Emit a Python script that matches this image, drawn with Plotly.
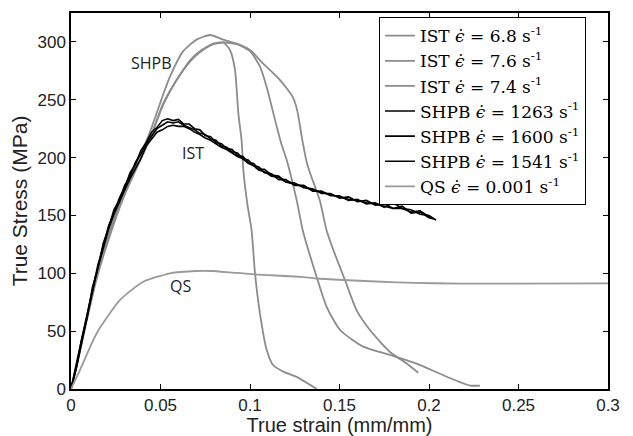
import plotly.graph_objects as go

# ---------------- data ----------------
ist68_strain = [0, 0.0013, 0.0069, 0.0143, 0.0218, 0.0292, 0.0367, 0.0441, 0.0516, 0.059, 0.0665,
                0.072, 0.0795, 0.0851, 0.0888, 0.0916, 0.0935, 0.0953, 0.0963, 0.0985, 0.1009,
                0.1028, 0.1056, 0.1093, 0.113, 0.1186, 0.126, 0.1373]
ist68_stress = [0, 8, 48, 97, 135, 166, 192, 217, 247, 267, 284,
                292, 298.5, 299.5, 293, 276, 238, 215, 189, 160, 137,
                100, 65, 34, 20.5, 15, 10.5, 0]

ist76_strain = [0, 0.0013, 0.0069, 0.0143, 0.0218, 0.0292, 0.0367, 0.0441, 0.0516, 0.059, 0.0665,
                0.072, 0.0795, 0.0851, 0.0926, 0.1, 0.1056, 0.1093, 0.1149, 0.1175, 0.1205, 0.1261,
                0.1295, 0.1326, 0.1376, 0.1428, 0.1503, 0.1633, 0.1782, 0.1931, 0.2099, 0.2229, 0.2285]
ist76_stress = [0, 7, 46, 95, 133, 165, 191, 216, 246, 267, 283,
                291, 298, 299.5, 298, 292, 278.6, 261, 227, 212, 198, 163,
                137, 120, 95, 71, 51, 36.6, 29.4, 22, 10.6, 3, 3]

ist74_strain = [0, 0.0013, 0.0069, 0.0143, 0.0218, 0.0292, 0.0367, 0.0441, 0.0516, 0.0553, 0.0627,
                0.0702, 0.0777, 0.085, 0.0926, 0.1, 0.1075, 0.115, 0.1205, 0.124, 0.1265, 0.1289,
                0.1317, 0.1335, 0.139, 0.1428, 0.1466, 0.1531, 0.1596, 0.167, 0.1782, 0.1875, 0.194]
ist74_stress = [0, 9, 50, 99, 137, 169, 195, 222, 255, 270, 292,
                302, 306, 302, 298.5, 293, 281, 270, 260, 252, 240, 218,
                196, 187, 163, 137, 120, 94, 68, 51, 32, 22, 14]

shpb1263_strain = [0, 0.003, 0.006, 0.009, 0.012, 0.015, 0.018, 0.021, 0.024, 0.027, 0.030, 0.033,
                   0.036, 0.039, 0.042, 0.045, 0.048, 0.051, 0.054, 0.057, 0.060, 0.063, 0.066,
                   0.069, 0.072, 0.075, 0.078, 0.081, 0.084, 0.087, 0.090, 0.093, 0.096, 0.099,
                   0.102, 0.105, 0.108, 0.112, 0.116, 0.120, 0.125, 0.130, 0.135, 0.140, 0.145,
                   0.150, 0.155, 0.160, 0.165, 0.170, 0.175, 0.180, 0.185, 0.190, 0.195, 0.200, 0.203]
shpb1263_stress = [0, 21, 41, 65, 85, 107, 123, 141, 152, 165, 174, 187,
                   194, 206, 213, 222, 226, 232, 233.5, 232, 233, 229, 229,
                   225, 224, 219, 218, 213, 212, 208, 207, 202, 201, 196,
                   195, 190, 190, 185, 184, 179, 178, 174, 173, 169, 169,
                   165, 166, 162, 163, 159, 160, 156, 158, 152, 153, 148, 147]

shpb1600_strain = [0, 0.003, 0.006, 0.009, 0.012, 0.015, 0.018, 0.021, 0.024, 0.027, 0.030, 0.033,
                   0.036, 0.039, 0.042, 0.045, 0.048, 0.051, 0.054, 0.057, 0.060, 0.063, 0.066,
                   0.069, 0.072, 0.075, 0.078, 0.081, 0.084, 0.087, 0.090, 0.093, 0.096, 0.099,
                   0.102, 0.105, 0.108, 0.112, 0.116, 0.120, 0.125, 0.130, 0.135, 0.140, 0.145,
                   0.150, 0.155, 0.160, 0.165, 0.170, 0.175, 0.180, 0.185, 0.190, 0.195, 0.200, 0.204]
shpb1600_stress = [0, 19, 43, 62, 88, 104, 126, 139, 155, 163, 176, 184,
                   196, 203, 212, 219, 225, 228, 231, 230, 231, 228, 226,
                   224, 221, 220, 216, 215, 210, 209, 205, 204, 199, 198,
                   193, 192, 187, 186, 181, 181, 176, 176, 171, 171, 167,
                   167, 163, 164, 160, 161, 157, 161, 156, 155, 151, 150, 146]

shpb1541_strain = [0, 0.003, 0.006, 0.009, 0.012, 0.015, 0.018, 0.021, 0.024, 0.027, 0.030, 0.033,
                   0.036, 0.039, 0.042, 0.045, 0.048, 0.051, 0.054, 0.057, 0.060, 0.063, 0.066,
                   0.069, 0.072, 0.075, 0.078, 0.081, 0.084, 0.087, 0.090, 0.093, 0.096, 0.099,
                   0.102, 0.105, 0.108, 0.112, 0.116, 0.120, 0.125, 0.130, 0.135, 0.140, 0.145,
                   0.150, 0.155, 0.160, 0.165, 0.170, 0.175, 0.180, 0.185, 0.190, 0.195, 0.200, 0.202]
shpb1541_stress = [0, 18, 40, 63, 84, 105, 122, 138, 151, 162, 172, 182,
                   190, 199, 210, 216, 222, 224, 227, 228, 227, 227, 225,
                   222, 220, 217, 215, 212, 209, 207, 204, 201, 199, 195,
                   193, 189, 188, 184, 183, 179, 177, 175, 172, 170, 168,
                   166, 164, 163, 161, 160, 158, 156, 156, 153, 154, 149, 147]

qs_strain = [0, 0.005, 0.0143, 0.0274, 0.0404, 0.0553, 0.07, 0.079, 0.0888, 0.1028, 0.128,
             0.137, 0.152, 0.182, 0.2025, 0.234, 0.3]
qs_stress = [0, 16.4, 48, 77, 92.7, 100, 102, 102, 100.8, 99, 97,
             95.5, 94.2, 92.2, 91.4, 91, 91.3]

legend_names = ["IST <i>ϵ̇</i> = 6.8 s<sup>-1</sup>",
                "IST <i>ϵ̇</i> = 7.6 s<sup>-1</sup>",
                "IST <i>ϵ̇</i> = 7.4 s<sup>-1</sup>",
                "SHPB <i>ϵ̇</i> = 1263 s<sup>-1</sup>",
                "SHPB <i>ϵ̇</i> = 1600 s<sup>-1</sup>",
                "SHPB <i>ϵ̇</i> = 1541 s<sup>-1</sup>",
                "QS <i>ϵ̇</i> = 0.001 s<sup>-1</sup>"]

x_ticks = [0, 0.05, 0.1, 0.15, 0.2, 0.25, 0.3]
x_ticklabels = ["0", "0.05", "0.1", "0.15", "0.2", "0.25", "0.3"]
y_ticks = [0, 50, 100, 150, 200, 250, 300]

curve_labels = ["SHPB", "IST", "QS"]
curve_label_x = [0.0447, 0.0684, 0.061]
curve_label_y = [282, 204, 89]

# ---------------- figure ----------------
GRAY = "#8c8c8c"
QSGRAY = "#9a9a9a"
fig = go.Figure()

series = [
    (ist68_strain, ist68_stress, GRAY, 1.8, "spline"),
    (ist76_strain, ist76_stress, GRAY, 1.8, "spline"),
    (ist74_strain, ist74_stress, GRAY, 1.8, "spline"),
    (shpb1263_strain, shpb1263_stress, "black", 1.6, "linear"),
    (shpb1600_strain, shpb1600_stress, "black", 1.6, "linear"),
    (shpb1541_strain, shpb1541_stress, "black", 1.6, "linear"),
    (qs_strain, qs_stress, QSGRAY, 1.8, "spline"),
]
for (xs, ys, col, w, shape), name in zip(series, legend_names):
    line = dict(color=col, width=w, shape=shape)
    if shape == "spline":
        line["smoothing"] = 0.6
    fig.add_trace(go.Scatter(x=xs, y=ys, mode="lines", name=name, line=line))

for t, xx, yy in zip(curve_labels, curve_label_x, curve_label_y):
    fig.add_annotation(x=xx, y=yy, text=t, showarrow=False,
                       font=dict(family="Open Sans", size=16, color="#222"))

axis_common = dict(showline=True, linecolor="black", linewidth=1.5, mirror="ticks",
                   ticks="inside", ticklen=5, tickwidth=1, tickcolor="black",
                   showgrid=False, zeroline=False, automargin=False,
                   tickfont=dict(family="Liberation Sans", size=17, color="#222"))

# the page body adds an 8px offset, so the figure is 8px smaller than the window
fig.update_layout(
    width=625, height=428,
    margin=dict(l=63, r=25, t=5, b=47),
    paper_bgcolor="white", plot_bgcolor="white",
    xaxis=dict(range=[0, 0.3], tickvals=x_ticks, ticktext=x_ticklabels,
               title=dict(text="True strain (mm/mm)", standoff=4,
                          font=dict(family="Liberation Sans", size=20, color="#222")),
               **axis_common),
    yaxis=dict(range=[0, 325], tickvals=y_ticks,
               title=dict(text="True Stress (MPa)", standoff=4,
                          font=dict(family="Liberation Sans", size=21, color="#222")),
               **axis_common),
    legend=dict(x=0.5735, y=0.989, xanchor="left", yanchor="top",
                bgcolor="white", bordercolor="black", borderwidth=1,
                font=dict(family="DejaVu Serif", size=17, color="black"),
                itemwidth=30, tracegroupgap=0),
    showlegend=True,
)

fig.write_html("out.html")
